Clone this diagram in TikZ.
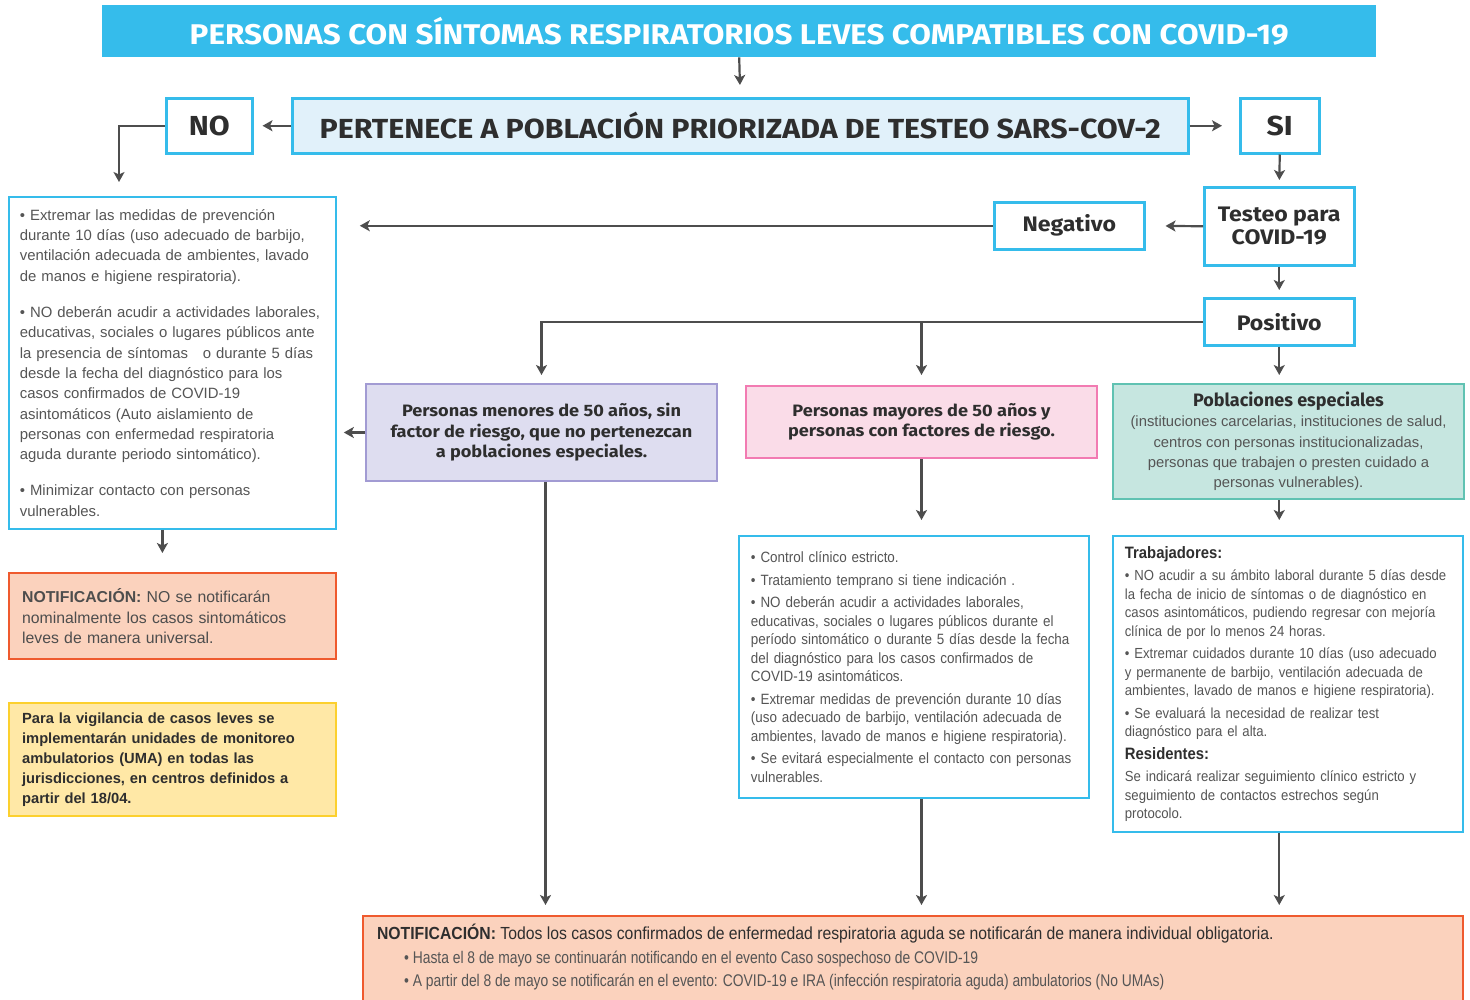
\documentclass[tikz,border=0pt]{standalone}
\usepackage{fontspec}
\setmainfont{Liberation Sans}
\newfontfamily\headfont{Fira Sans}
\newfontfamily\wideheadfont{Fira Sans}[FakeStretch=1.1]
\newfontfamily\bodyfont{Liberation Sans}[FakeStretch=0.9]
\newfontfamily\condfont{Liberation Sans}[FakeStretch=0.82]
\usetikzlibrary{arrows.meta,positioning}
\definecolor{skyblue}{HTML}{35BCEB}
\definecolor{paleblue}{HTML}{E1F1FA}
\definecolor{arrowgray}{HTML}{4D4D4D}
\definecolor{headtext}{HTML}{2E2E2E}
\definecolor{bodytext}{HTML}{555555}
\definecolor{lilacfill}{HTML}{DEDDF0}
\definecolor{lilacline}{HTML}{A29BD3}
\definecolor{pinkfill}{HTML}{FADCE8}
\definecolor{pinkline}{HTML}{F27BB2}
\definecolor{mintfill}{HTML}{C6E6E0}
\definecolor{mintline}{HTML}{60C2B2}
\definecolor{peachfill}{HTML}{FBD2BD}
\definecolor{peachline}{HTML}{EF5A2E}
\definecolor{sandfill}{HTML}{FFE8A6}
\definecolor{sandline}{HTML}{FCD02E}

\begin{document}
\begin{tikzpicture}[x=1pt,y=-1pt,
  box/.style={draw=skyblue,line width=2.5pt,fill=white,anchor=north west,inner sep=0pt,align=center,text=headtext,font=\wideheadfont\bfseries\fontsize{21}{23}\selectfont},
  listbox/.style={draw=skyblue,line width=1.8pt,fill=white,anchor=north west,inner xsep=11pt,inner ysep=0pt,align=left,text=bodytext},
  groupbox/.style={line width=2pt,anchor=north west,inner sep=0pt,align=center,text=headtext,font=\wideheadfont\bfseries\fontsize{16.5}{20.5}\selectfont},
  arr/.style={-{Stealth[length=10pt,width=11pt,inset=2.5pt]},line width=2.2pt,draw=arrowgray}]
\useasboundingbox (0,0) rectangle (1470,999);

% top of the chart
\node[anchor=north west,fill=skyblue,text=white,minimum width=1274pt,minimum height=52pt,inner sep=0pt,font=\wideheadfont\bfseries\fontsize{28.5}{30}\selectfont] (title) at (102,5) {PERSONAS CON SÍNTOMAS RESPIRATORIOS LEVES COMPATIBLES CON COVID-19};
\node[box,fill=paleblue,minimum width=896pt,minimum height=55pt,font=\wideheadfont\bfseries\fontsize{27.6}{30}\selectfont] (prio) at (291,97) {PERTENECE A POBLACIÓN PRIORIZADA DE TESTEO SARS-COV-2};
\node[box,minimum width=86pt,minimum height=55pt,font=\wideheadfont\bfseries\fontsize{27.5}{30}\selectfont] (no) at (165,97) {NO};
\node[box,minimum width=79pt,minimum height=55pt,font=\wideheadfont\bfseries\fontsize{27.5}{30}\selectfont] (si) at (1239,97) {SI};
\node[box,minimum width=150pt,minimum height=78pt] (test) at (1203,186) {Testeo para\\COVID-19};
\node[box,minimum width=150pt,minimum height=47pt] (neg) at (993,201) {Negativo};
\node[box,minimum width=150pt,minimum height=47pt] (pos) at (1203,297) {Positivo};
\coordinate (nodrop) at (119,182);

% rama NO
\node[listbox,text width=305pt,minimum height=332pt,font=\rmfamily\fontsize{14.9}{20.3}\selectfont] (leftbox) at (8,196) {%
• Extremar las medidas de prevención\\
durante 10 días (uso adecuado de barbijo,\\
ventilación adecuada de ambientes, lavado\\
de manos e higiene respiratoria).\\[16pt]
• NO deberán acudir a actividades laborales,\\
educativas, sociales o lugares públicos ante\\
la presencia de síntomas \ \ o durante 5 días\\
desde la fecha del diagnóstico para los\\
casos confirmados de COVID-19\\
asintomáticos (Auto aislamiento de\\
personas con enfermedad respiratoria\\
aguda durante periodo sintomático).\\[16pt]
• Minimizar contacto con personas\\
vulnerables.};
\node[listbox,fill=peachfill,draw=peachline,line width=2.2pt,inner xsep=13pt,text width=301pt,minimum height=86pt,text=headtext!85,font=\rmfamily\fontsize{15.8}{20.5}\selectfont] (leftnotif) at (8,572) {%
\textbf{NOTIFICACIÓN:} NO se notificarán\\
nominalmente los casos sintomáticos\\
leves de manera universal.};
\node[listbox,fill=sandfill,draw=sandline,line width=2.2pt,inner xsep=13pt,text width=301pt,minimum height=113pt,text=headtext,font=\rmfamily\bfseries\fontsize{14.7}{20.2}\selectfont] (uma) at (8,702) {%
Para la vigilancia de casos leves se\\
implementarán unidades de monitoreo\\
ambulatorios (UMA) en todas las\\
jurisdicciones, en centros definidos a\\
partir del 18/04.};

% rama Positivo
\node[groupbox,fill=lilacfill,draw=lilacline,minimum width=351pt,minimum height=97pt] (young) at (365,383) {Personas menores de 50 años, sin\\factor de riesgo, que no pertenezcan\\a poblaciones especiales.};
\node[groupbox,fill=pinkfill,draw=pinkline,minimum width=351pt,minimum height=72pt] (old) at (745,385) {Personas mayores de 50 años y\\personas con factores de riesgo.};
\node[groupbox,fill=mintfill,draw=mintline,minimum width=351pt,minimum height=115pt,text=bodytext,font=\rmfamily\fontsize{14.8}{20.3}\selectfont] (special) at (1112,383) {%
{\headfont\bfseries\fontsize{18}{20.3}\selectfont\color{headtext}Poblaciones especiales}\\
(instituciones carcelarias, instituciones de salud,\\
centros con personas institucionalizadas,\\
personas que trabajen o presten cuidado a\\
personas vulnerables).};
\node[listbox,inner xsep=12pt,text width=326pt,minimum height=262pt,font=\bodyfont\fontsize{14.9}{18.5}\selectfont] (oldlist) at (738,535) {%
• Control clínico estricto.\\[4pt]
• Tratamiento temprano si tiene indicación .\\[4pt]
• NO deberán acudir a actividades laborales,\\
educativas, sociales o lugares públicos durante el\\
período sintomático o durante 5 días desde la fecha\\
del diagnóstico para los casos confirmados de\\
COVID-19 asintomáticos.\\[4pt]
• Extremar medidas de prevención durante 10 días\\
(uso adecuado de barbijo, ventilación adecuada de\\
ambientes, lavado de manos e higiene respiratoria).\\[4pt]
• Se evitará especialmente el contacto con personas\\
vulnerables.};
\node[listbox,inner xsep=12pt,text width=326pt,minimum height=296pt,font=\bodyfont\fontsize{14.6}{18.5}\selectfont] (speclist) at (1112,535) {%
{\bfseries\color{headtext}\fontsize{16.5}{18.5}\selectfont Trabajadores:}\\[4pt]
• NO acudir a su ámbito laboral durante 5 días desde\\
la fecha de inicio de síntomas o de diagnóstico en\\
casos asintomáticos, pudiendo regresar con mejoría\\
clínica de por lo menos 24 horas.\\[4pt]
• Extremar cuidados durante 10 días (uso adecuado\\
y permanente de barbijo, ventilación adecuada de\\
ambientes, lavado de manos e higiene respiratoria).\\[4pt]
• Se evaluará la necesidad de realizar test\\
diagnóstico para el alta.\\[4pt]
{\bfseries\color{headtext}\fontsize{16.5}{18.5}\selectfont Residentes:}\\[4pt]
Se indicará realizar seguimiento clínico estricto y\\
seguimiento de contactos estrechos según\\
protocolo.};
\node[listbox,fill=peachfill,draw=peachline,line width=2.2pt,inner xsep=14pt,inner ysep=8pt,font=\condfont\fontsize{16.9}{23.5}\selectfont] (notif) at (362,915) {\parbox[c][84pt][t]{1072pt}{%
{\bodyfont\fontsize{17.5}{23.5}\selectfont\color{headtext}\textbf{NOTIFICACIÓN:} Todos los casos confirmados de enfermedad respiratoria aguda se notificarán de manera individual obligatoria.}\\
\hspace*{27pt}• Hasta el 8 de mayo se continuarán notificando en el evento Caso sospechoso de COVID-19\\
\hspace*{27pt}• A partir del 8 de mayo se notificarán en el evento: COVID-19 e IRA (infección respiratoria aguda) ambulatorios (No UMAs)}};

% conectores
\draw[arr,shorten >=12pt] (title.south) -- (prio.north);
\draw[arr,shorten >=9pt] (prio.west) -- (no.east);
\draw[arr,shorten >=17pt] (prio.east) -- (si.west);
\draw[arr] (no.west) -| (nodrop);
\draw[arr,shorten >=6pt] (si.south) -- (test.north);
\draw[arr,shorten >=20pt] (test.west) -- (neg.east);
\draw[arr,shorten >=23pt] (neg.west) -- (neg.west -| leftbox.east);
\draw[arr,shorten >=7pt] (test.south) -- (pos.north);
\draw[arr,shorten >=8pt] (pos.west) -| (young.north);
\draw[arr,shorten >=10pt] (pos.west) -| (old.north);
\draw[arr,shorten >=8pt] (pos.south) -- (pos.south |- special.north);
\draw[arr,shorten >=7pt] (young.west) -- (young.west -| leftbox.east);
\draw[arr,shorten >=15pt] (old.south) -- (old.south |- oldlist.north);
\draw[arr,shorten >=15pt] (pos.south |- special.south) -- (pos.south |- speclist.north);
\draw[arr,shorten >=19pt] ([xshift=-10pt]leftbox.south) -- ([xshift=-10pt]leftbox.south |- leftnotif.north);
\draw[arr,shorten >=10pt] ([xshift=4pt]young.south) -- ([xshift=4pt]young.south |- notif.north);
\draw[arr,shorten >=10pt] (old.south |- oldlist.south) -- (old.south |- notif.north);
\draw[arr,shorten >=10pt] (pos.south |- speclist.south) -- (pos.south |- notif.north);
\end{tikzpicture}
\end{document}
